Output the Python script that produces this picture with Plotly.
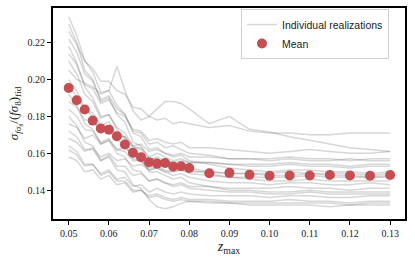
import plotly.graph_objects as go

z_max = [0.050, 0.052, 0.054, 0.056, 0.058, 0.060, 0.062, 0.064, 0.066, 0.068,
         0.070, 0.072, 0.074, 0.076, 0.078, 0.080, 0.085, 0.090, 0.095, 0.100,
         0.105, 0.110, 0.115, 0.120, 0.125, 0.130]

mean_ratio = [0.1954, 0.1887, 0.1837, 0.1777, 0.1734, 0.1728, 0.1692, 0.1648, 0.1603, 0.1579,
              0.1552, 0.1543, 0.1547, 0.1529, 0.1530, 0.1520, 0.1492, 0.1494, 0.1484, 0.1478,
              0.1480, 0.1480, 0.1482, 0.1480, 0.1478, 0.1482]

real_01 = [0.234,0.224,0.210,0.204,0.193,0.194,0.186,0.181,0.171,0.169,0.162,0.163,0.160,0.158,0.159,0.156,0.154,0.152,0.151,0.150,0.151,0.151,0.150,0.150,0.149,0.150]
real_02 = [0.230,0.220,0.205,0.200,0.188,0.190,0.181,0.177,0.166,0.164,0.157,0.157,0.155,0.152,0.154,0.151,0.149,0.147,0.146,0.145,0.145,0.146,0.145,0.145,0.145,0.145]
real_03 = [0.226,0.219,0.210,0.206,0.199,0.199,0.194,0.192,0.185,0.184,0.180,0.178,0.179,0.176,0.177,0.176,0.174,0.175,0.172,0.171,0.171,0.170,0.170,0.171,0.171,0.171]
real_04 = [0.222,0.215,0.203,0.199,0.189,0.191,0.184,0.181,0.172,0.171,0.165,0.166,0.163,0.164,0.162,0.160,0.159,0.157,0.157,0.156,0.157,0.156,0.156,0.157,0.156,0.156]
real_05 = [0.218,0.209,0.196,0.190,0.180,0.181,0.173,0.168,0.158,0.157,0.150,0.150,0.148,0.146,0.147,0.144,0.142,0.140,0.140,0.139,0.139,0.140,0.139,0.139,0.139,0.139]
real_06 = [0.214,0.208,0.197,0.195,0.187,0.189,0.182,0.180,0.173,0.172,0.167,0.168,0.166,0.165,0.166,0.163,0.163,0.162,0.161,0.160,0.161,0.162,0.161,0.160,0.160,0.161]
real_07 = [0.210,0.203,0.192,0.188,0.179,0.181,0.174,0.171,0.164,0.162,0.156,0.157,0.155,0.153,0.154,0.152,0.150,0.149,0.149,0.148,0.148,0.149,0.148,0.148,0.147,0.148]
real_08 = [0.205,0.200,0.198,0.196,0.192,0.194,0.207,0.194,0.183,0.178,0.180,0.184,0.188,0.188,0.187,0.184,0.176,0.180,0.173,0.1715,0.169,0.167,0.165,0.163,0.162,0.161]
real_09 = [0.200,0.194,0.184,0.180,0.171,0.174,0.167,0.165,0.157,0.156,0.151,0.152,0.150,0.148,0.149,0.147,0.145,0.144,0.144,0.143,0.144,0.144,0.143,0.143,0.144,0.143]
real_10 = [0.196,0.191,0.183,0.182,0.175,0.177,0.170,0.169,0.163,0.163,0.158,0.160,0.158,0.156,0.157,0.155,0.155,0.154,0.153,0.153,0.154,0.153,0.153,0.152,0.153,0.153]
real_11 = [0.192,0.186,0.176,0.173,0.165,0.167,0.160,0.158,0.151,0.150,0.145,0.146,0.144,0.142,0.143,0.141,0.140,0.139,0.139,0.138,0.138,0.139,0.138,0.138,0.138,0.138]
real_12 = [0.188,0.185,0.178,0.178,0.172,0.175,0.169,0.169,0.164,0.165,0.161,0.162,0.160,0.159,0.160,0.158,0.158,0.157,0.157,0.157,0.158,0.157,0.157,0.156,0.157,0.157]
real_13 = [0.184,0.180,0.173,0.172,0.166,0.168,0.162,0.161,0.156,0.156,0.152,0.153,0.151,0.150,0.151,0.149,0.148,0.147,0.147,0.147,0.147,0.148,0.147,0.147,0.147,0.147]
real_14 = [0.180,0.175,0.166,0.164,0.156,0.158,0.151,0.150,0.143,0.141,0.135,0.131,0.130,0.131,0.133,0.134,0.133,0.133,0.132,0.132,0.132,0.132,0.131,0.132,0.132,0.132]
real_15 = [0.176,0.174,0.168,0.170,0.165,0.167,0.162,0.163,0.159,0.160,0.156,0.158,0.156,0.155,0.156,0.155,0.155,0.154,0.154,0.154,0.155,0.154,0.154,0.153,0.154,0.154]
real_16 = [0.172,0.169,0.162,0.162,0.156,0.159,0.153,0.153,0.148,0.149,0.145,0.146,0.144,0.143,0.144,0.142,0.142,0.141,0.141,0.141,0.142,0.141,0.141,0.140,0.141,0.141]
real_17 = [0.168,0.166,0.161,0.163,0.158,0.160,0.156,0.157,0.153,0.154,0.151,0.152,0.150,0.150,0.151,0.150,0.150,0.149,0.149,0.149,0.150,0.149,0.149,0.149,0.148,0.149]
real_18 = [0.164,0.161,0.154,0.154,0.148,0.150,0.145,0.145,0.140,0.140,0.136,0.137,0.135,0.134,0.135,0.134,0.134,0.133,0.133,0.133,0.133,0.133,0.133,0.132,0.133,0.133]
real_19 = [0.162,0.159,0.153,0.154,0.149,0.151,0.146,0.147,0.142,0.143,0.139,0.141,0.139,0.138,0.139,0.138,0.137,0.137,0.137,0.136,0.137,0.137,0.136,0.136,0.137,0.137]
real_20 = [0.158,0.156,0.150,0.151,0.146,0.148,0.143,0.144,0.139,0.140,0.137,0.138,0.136,0.135,0.136,0.135,0.135,0.134,0.134,0.134,0.135,0.134,0.134,0.133,0.134,0.134]

realizations = [real_01, real_02, real_03, real_04, real_05, real_06, real_07, real_08, real_09, real_10,
                real_11, real_12, real_13, real_14, real_15, real_16, real_17, real_18, real_19, real_20]

x_ticks = [0.05, 0.06, 0.07, 0.08, 0.09, 0.10, 0.11, 0.12, 0.13]
x_tick_labels = ["0.05", "0.06", "0.07", "0.08", "0.09", "0.10", "0.11", "0.12", "0.13"]
y_ticks = [0.14, 0.16, 0.18, 0.20, 0.22]
y_tick_labels = ["0.14", "0.16", "0.18", "0.20", "0.22"]

fig = go.Figure()
for i, r in enumerate(realizations):
    fig.add_trace(go.Scatter(
        x=z_max, y=r, mode="lines",
        line=dict(color="rgba(110,110,110,0.28)", width=1.5),
        name="Individual realizations", legendgroup="real",
        showlegend=(i == 0), hoverinfo="skip"))

fig.add_trace(go.Scatter(
    x=z_max, y=mean_ratio, mode="markers",
    marker=dict(color="#C44E52", size=10, line=dict(width=0)),
    name="Mean"))

serif = "Liberation Serif, DejaVu Serif, serif"
fig.update_layout(
    width=415, height=260,
    margin=dict(l=53, r=10, t=8, b=41, autoexpand=False),
    plot_bgcolor="white", paper_bgcolor="white",
    showlegend=True,
    legend=dict(x=0.534, y=0.995, xanchor="left", yanchor="top",
                bgcolor="rgba(255,255,255,0.9)", bordercolor="#d0d0d0", borderwidth=1,
                font=dict(family="Liberation Sans, Arial, sans-serif", size=10.5, color="#222"),
                tracegroupgap=0, itemwidth=30),
    xaxis=dict(range=[0.0461, 0.1337], tickvals=x_ticks, ticktext=x_tick_labels,
               automargin=False,
               showline=True, mirror=True, linecolor="black", linewidth=2,
               ticks="outside", ticklen=4, tickwidth=1, tickcolor="black",
               showgrid=False, zeroline=False,
               tickfont=dict(family=serif, size=10, color="#222"),
               title=dict(text="<i>z</i><sub>max</sub>", standoff=2,
                          font=dict(family=serif, size=14, color="#222"))),
    yaxis=dict(range=[0.1244, 0.2387], tickvals=y_ticks, ticktext=y_tick_labels,
               automargin=False,
               showline=True, mirror=True, linecolor="black", linewidth=2,
               ticks="outside", ticklen=4, tickwidth=1, tickcolor="black",
               showgrid=False, zeroline=False,
               tickfont=dict(family=serif, size=10, color="#222"),
               title=dict(text="<i>σ</i><sub><i>fσ</i>₈</sub>/(<i>fσ</i><sub>8</sub>)<sub>fid</sub>",
                          standoff=6, font=dict(family=serif, size=13, color="#222"))),
)

fig.write_html("out.html", config={"displayModeBar": False},
               post_script="document.body.style.margin='0px';document.body.style.overflow='hidden';")
